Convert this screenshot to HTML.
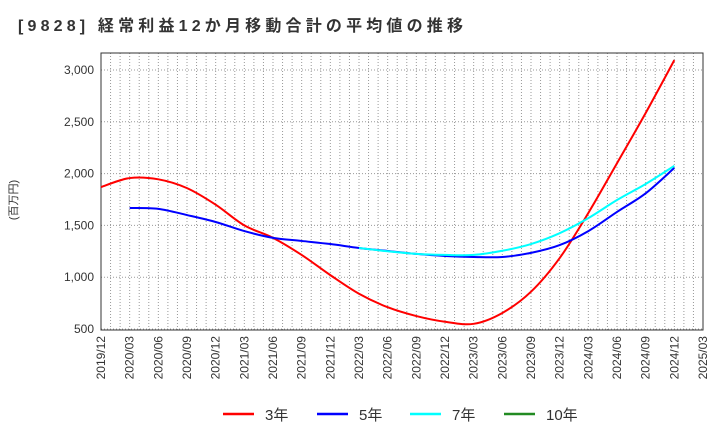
<!DOCTYPE html>
<html><head><meta charset="utf-8"><style>
body{margin:0;background:#fff;font-family:"Liberation Sans","Noto Sans CJK JP",sans-serif}
svg text{font-family:"Liberation Sans","Noto Sans CJK JP",sans-serif}
</style></head><body>
<svg id="c" width="720" height="440">
<text x="18" y="31" font-size="16" font-weight="bold" fill="#333" textLength="445" lengthAdjust="spacing">[9828]  経常利益12か月移動合計の平均値の推移</text>
<text transform="translate(17,200) rotate(-90)" font-size="11" fill="#333" text-anchor="middle">(百万円)</text>
<g id="grid"></g><g id="axes"></g><g id="lines"></g><g id="legend"></g>
</svg>
<script>
const categories=["2019/12","2020/03","2020/06","2020/09","2020/12","2021/03","2021/06","2021/09","2021/12","2022/03","2022/06","2022/09","2022/12","2023/03","2023/06","2023/09","2023/12","2024/03","2024/06","2024/09","2024/12","2025/03"];
const yTicks=[500,1000,1500,2000,2500,3000];
const s3=[1870,1957,1945,1860,1700,1500,1380,1215,1020,840,710,625,570,550,655,860,1185,1620,2100,2585,3095,null];
const s5=[null,1668,1660,1600,1533,1445,1380,1350,1320,1282,1253,1225,1205,1195,1195,1235,1310,1445,1630,1810,2055,null];
const s7=[null,null,null,null,null,null,null,null,null,1282,1250,1225,1215,1215,1255,1320,1425,1570,1745,1900,2075,null];
const s10=[];
const NS="http://www.w3.org/2000/svg";
const L=101,R=703,T=53,B=330;
const xs=i=>L+(R-L)*i/(categories.length-1);
const ys=v=>B-(v-500)/2500*(B-T-18)-1;
function mk(t,a,p){const e=document.createElementNS(NS,t);for(const k in a)e.setAttribute(k,a[k]);p.appendChild(e);return e;}
const g=document.getElementById('grid'),ax=document.getElementById('axes');
for(let m=1;m<63;m++){const x=L+(R-L)*m/63;
const l=mk('line',{x1:x,x2:x,y1:T,y2:B,stroke:'#999','stroke-dasharray':'1,2','stroke-width':1},g);

}
yTicks.forEach(v=>{const y=ys(v);
const l=mk('line',{x1:L,x2:R,y1:y,y2:y,stroke:'#999','stroke-dasharray':'1,2'},g);


const t=mk('text',{x:L-7,y:y+4,'font-size':12,'text-anchor':'end',fill:'#333'},ax);t.textContent=v.toLocaleString('en-US');

});
const fr=mk('rect',{x:L,y:T,width:R-L,height:B-T,fill:'none',stroke:'#333'},ax);


categories.forEach((c,i)=>{const x=xs(i);const t=mk('text',{transform:`translate(${x+4},${B+6}) rotate(-90)`,'font-size':12,'text-anchor':'end',fill:'#333'},ax);t.textContent=c;

});
function path(arr){const p=[];arr.forEach((v,i)=>{if(v!=null)p.push([xs(i),ys(v)])});if(p.length<2)return '';
let d=`M${p[0][0]},${p[0][1]}`;for(let i=0;i<p.length-1;i++){const p0=p[i-1]||p[i],p1=p[i],p2=p[i+1],p3=p[i+2]||p2;
d+=` C${p1[0]+(p2[0]-p0[0])/6},${p1[1]+(p2[1]-p0[1])/6} ${p2[0]-(p3[0]-p1[0])/6},${p2[1]-(p3[1]-p1[1])/6} ${p2[0]},${p2[1]}`;}return d;}
const lg=document.getElementById('lines');
[[s3,'#ff0000','line-3yr'],[s5,'#0000ff','line-5yr'],[s7,'#00ffff','line-7yr'],[s10,'#228b22','line-10yr']].forEach(([a,c,n])=>{const d=path(a);if(!d)return;
const e=mk('path',{d:d,fill:'none',stroke:c,'stroke-width':2},lg);

});
const leg=document.getElementById('legend');
[['3年','#ff0000',223],['5年','#0000ff',317],['7年','#00ffff',410],['10年','#228b22',504]].forEach(([t,c,x])=>{
const gi=mk('g',{},leg);


mk('line',{x1:x,x2:x+31,y1:414,y2:414,stroke:c,'stroke-width':2.5},gi);
const tx=mk('text',{x:x+42,y:420,'font-size':15,fill:'#333'},gi);tx.textContent=t;});
</script>
</body></html>
